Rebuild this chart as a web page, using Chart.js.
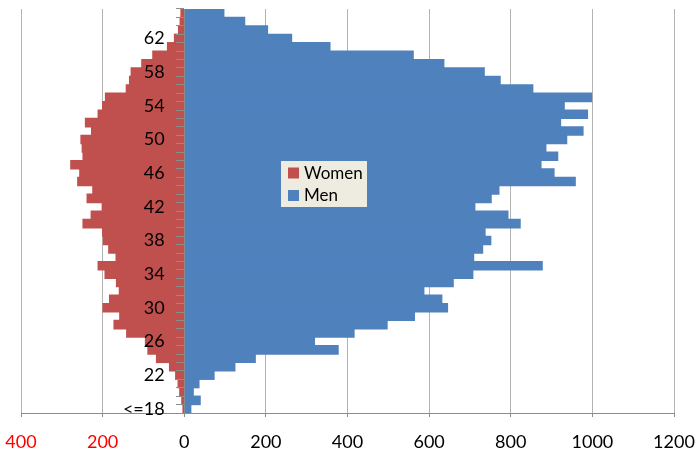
<!DOCTYPE html>
<html>
<head>
<meta charset="utf-8">
<script src="https://cdn.jsdelivr.net/npm/chart.js@4/dist/chart.umd.min.js"></script>
<style>
  html, body { margin: 0; padding: 0; background: #ffffff; }
  #wrap { width: 696px; height: 454px; }
</style>
</head>
<body>
<div id="wrap"><canvas id="pyramid" width="696" height="454"></canvas></div>
<script>
// Age groups, youngest first
const ages = ['<=18','19','20','21','22','23','24','25','26','27','28','29','30','31','32','33',
  '34','35','36','37','38','39','40','41','42','43','44','45','46','47','48','49',
  '50','51','52','53','54','55','56','57','58','59','60','61','62','63','64','65'];

// Head counts per age group
const women = [3, 6, 11, 15, 21, 36, 68, 89, 95, 141, 172, 158, 199, 183, 159, 166,
  194, 211, 167, 185, 198, 200, 248, 228, 201, 238, 224, 261, 256, 278, 248, 250,
  253, 227, 242, 211, 200, 193, 142, 134, 130, 104, 77, 41, 24, 14, 10, 8];
const men = [16, 39, 22, 36, 73, 124, 174, 377, 319, 416, 497, 564, 645, 631, 587, 659,
  707, 877, 709, 731, 751, 737, 823, 793, 712, 752, 771, 958, 906, 874, 915, 886,
  937, 977, 922, 988, 931, 998, 854, 774, 735, 636, 561, 357, 263, 204, 148, 97];

// Horizontal axis range and step
const xMin = -400, xMax = 1200, xStep = 200;

const FONT = 'Lato, Carlito, Calibri, "Open Sans", sans-serif';
const AXIS_GREY = '#8c8c8c';

// Small boxed legend sitting inside the plot
const legendBox = {
  id: 'legendBox',
  afterDraw(chart) {
    const ctx = chart.ctx;
    ctx.save();
    ctx.fillStyle = '#eeece1';
    ctx.fillRect(281, 161, 86, 46);
    chart.data.datasets.forEach((ds, i) => {
      const y = 173 + i * 22.5;
      ctx.fillStyle = ds.backgroundColor;
      ctx.fillRect(288, y - 5.5, 11, 11);
      ctx.fillStyle = '#000000';
      ctx.font = '17px ' + FONT;
      ctx.textBaseline = 'middle';
      ctx.textAlign = 'left';
      ctx.fillText(ds.label, 304, y + 0.5);
    });
    ctx.restore();
  }
};

// the plot box is set by layout padding alone, so axes add no extra room
function noPadding(scale) {
  scale.paddingTop = 0; scale.paddingBottom = 0;
  scale.paddingLeft = 0; scale.paddingRight = 0;
}

function ageTick(v, i) { return i % 4 === 0 ? this.getLabelForValue(v) : ''; }

function draw() {
  new Chart(document.getElementById('pyramid'), {
    type: 'bar',
    data: {
      labels: ages,
      datasets: [
        { label: 'Women', data: women.map(v => -v), backgroundColor: '#c0504d',
          borderWidth: 0, inflateAmount: 0.6, barPercentage: 1, categoryPercentage: 1 },
        { label: 'Men', data: men, backgroundColor: '#4f81bd',
          borderWidth: 0, inflateAmount: 0.6, barPercentage: 1, categoryPercentage: 1 }
      ]
    },
    options: {
      indexAxis: 'y',
      responsive: false,
      animation: false,
      devicePixelRatio: 1,
      layout: { padding: { left: 21, right: 22, top: 9, bottom: 0 } },
      plugins: { legend: { display: false }, tooltip: { enabled: false } },
      scales: {
        x: {
          type: 'linear',
          min: xMin, max: xMax,
          stacked: true,
          position: 'bottom',
          afterFit(scale) { noPadding(scale); scale.height = 41; },
          grid: { color: '#b3b3b3', lineWidth: 1, drawTicks: true, tickLength: 4, tickColor: AXIS_GREY },
          border: { display: true, color: AXIS_GREY, width: 1 },
          ticks: {
            stepSize: xStep,
            padding: 14,
            maxRotation: 0,
            font: { family: FONT, size: 18 },
            color: (c) => (c.tick && c.tick.value < 0 ? '#ff0000' : '#000000'),
            callback: (v) => String(Math.abs(v))
          }
        },
        // category axis line and its tick marks at zero
        y: {
          type: 'category',
          axis: 'y',
          reverse: true,
          stacked: true,
          offset: true,
          position: { x: 0 },
          afterFit: noPadding,
          grid: { drawOnChartArea: false, drawTicks: true, tickLength: 8, color: AXIS_GREY, offset: true, z: 1 },
          border: { display: true, color: AXIS_GREY, width: 1, z: 1 },
          ticks: { autoSkip: false, display: false }
        },
        // age labels, set a little left of the axis line
        yLabels: {
          type: 'category',
          axis: 'y',
          reverse: true,
          offset: true,
          position: { x: -48 },
          afterFit: noPadding,
          grid: { display: false },
          border: { display: false },
          ticks: {
            autoSkip: false,
            z: 2,
            font: { family: FONT, size: 18 },
            color: '#000000',
            callback: ageTick
          }
        }
      }
    },
    plugins: [legendBox]
  });
}

if (document.fonts && document.fonts.load) {
  document.fonts.load('18px Lato').then(draw, draw);
} else {
  draw();
}
</script>
</body>
</html>
